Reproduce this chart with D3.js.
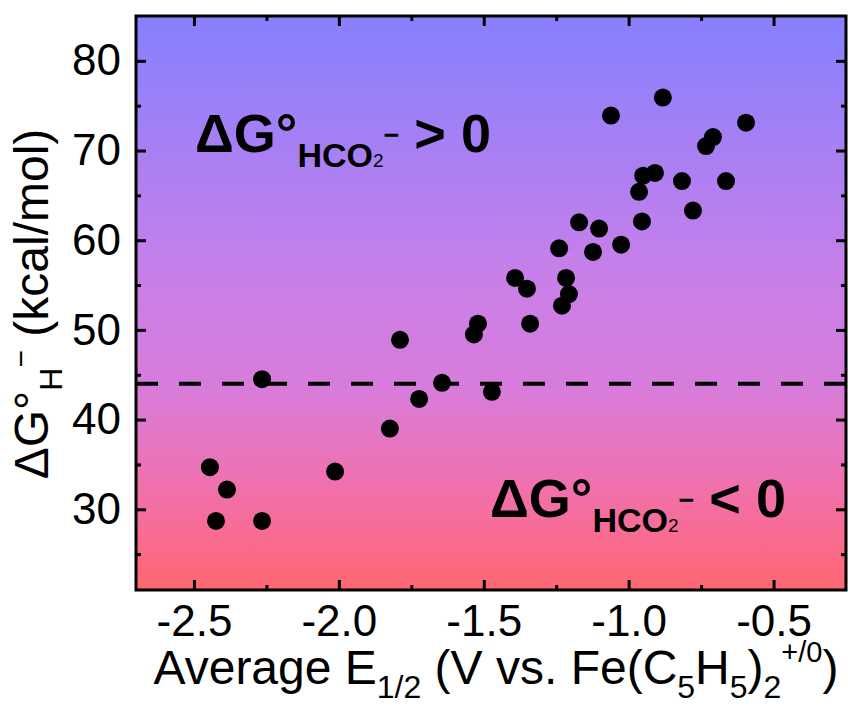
<!DOCTYPE html>
<html>
<head>
<meta charset="utf-8">
<script src="https://cdn.jsdelivr.net/npm/d3@7"></script>
<style>
body { margin:0; background:#fff; }
svg text { font-family: "Liberation Sans", Arial, sans-serif; }
</style>
</head>
<body>
<svg id="chart"></svg>
<script>
// values
var potentials = [-2.424,-2.445,-2.386,-2.265,-2.265,-2.013,-1.824,-1.789,-1.723,-1.644,
                  -1.534,-1.520,-1.472,-1.392,-1.351,-1.340,-1.240,-1.230,-1.216,-1.206,
                  -1.171,-1.123,-1.102,-1.061,-1.026,-0.964,-0.954,-0.950,-0.909,-0.882,
                  -0.816,-0.778,-0.733,-0.709,-0.664,-0.595];
var hydricity = [28.7,34.7,32.2,44.5,28.7,34.2,39.0,48.9,42.3,44.1,
                 49.5,50.7,43.1,55.8,54.6,50.7,59.1,52.7,55.8,54.0,
                 62.0,58.7,61.3,73.9,59.5,65.4,62.1,67.2,67.5,75.9,
                 66.6,63.3,70.5,71.5,66.6,73.1];
var xTicks = [-2.5,-2.0,-1.5,-1.0,-0.5];
var xMinor = [-2.25,-1.75,-1.25,-0.75];
var yTicks = [30,40,50,60,70,80];
var yMinor = [25,35,45,55,65,75];
var threshold = 44;

var screen = {width:848, height:709};
var margins = {top:16, bottom:119, left:136, right:2};
var graph = {
    width:screen.width-margins.left-margins.right,
    height:screen.height-margins.top-margins.bottom
};

var svg = d3.select("#chart")
    .attr("width", screen.width)
    .attr("height", screen.height);

var x = d3.scaleLinear()
        .domain([-2.7,-0.25])
        .range([0,graph.width]);

var y = d3.scaleLinear()
        .domain([21,85])
        .range([graph.height,0]);

//background gradient
var grad = svg.append("defs")
    .append("linearGradient")
    .attr("id","bg")
    .attr("x1",0).attr("y1",0).attr("x2",0).attr("y2",1);
[[0,"#8680ff"],[0.45,"#c87fe9"],[0.65,"#d87cdb"],[0.8,"#ee72b2"],[0.9,"#f86c94"],[1,"#ff6670"]]
    .forEach(function(s)
    {
        grad.append("stop").attr("offset",s[0]).attr("stop-color",s[1]);
    });

var g = svg.append("g")
    .attr("transform","translate("+margins.left+","+margins.top+")");

g.append("rect")
    .attr("width",graph.width)
    .attr("height",graph.height)
    .attr("fill","url(#bg)");

//ticks, all pointing inward
var drawTicks = function(axis, ticks, len, tr, fmt)
{
    var a = g.append("g")
        .attr("transform",tr)
        .call(axis.tickValues(ticks).tickSize(-len).tickPadding(15)
              .tickFormat(fmt || function(){ return ""; }));
    a.select(".domain").remove();
    a.selectAll("line").attr("stroke","black").attr("stroke-width",3);
    a.selectAll("text").attr("font-size",44).attr("fill","black");
    return a;
};

var xFmt = function(d){ return "-"+Math.abs(d).toFixed(1); };
var yFmt = function(d){ return d; };

var bottomY = "translate(0,"+graph.height+")";
var rightX = "translate("+graph.width+",0)";
drawTicks(d3.axisBottom(x), xTicks, 10, bottomY, xFmt);
drawTicks(d3.axisBottom(x), xMinor, 5, bottomY);
drawTicks(d3.axisTop(x), xTicks, 10, "translate(0,0)");
drawTicks(d3.axisTop(x), xMinor, 5, "translate(0,0)");
drawTicks(d3.axisLeft(y), yTicks, 10, "translate(0,0)", yFmt);
drawTicks(d3.axisLeft(y), yMinor, 5, "translate(0,0)");
drawTicks(d3.axisRight(y), yTicks, 10, rightX);
drawTicks(d3.axisRight(y), yMinor, 5, rightX);

//dashed threshold
g.append("line")
    .attr("x1",0).attr("x2",graph.width)
    .attr("y1",y(threshold)).attr("y2",y(threshold))
    .attr("stroke","black")
    .attr("stroke-width",4)
    .attr("stroke-dasharray","22,21");

//points
g.append("g")
    .selectAll("circle")
    .data(potentials)
    .enter()
    .append("circle")
    .attr("cx",function(d){ return x(d); })
    .attr("cy",function(d,i){ return y(hydricity[i]); })
    .attr("r",9)
    .attr("fill","black");

//frame
g.append("rect")
    .attr("width",graph.width)
    .attr("height",graph.height)
    .attr("fill","none")
    .attr("stroke","black")
    .attr("stroke-width",3);

//annotations
var annotate = function(px, py, sign)
{
    var t = svg.append("text")
        .attr("x",px).attr("y",py)
        .attr("font-weight","bold")
        .attr("font-size",54);
    t.append("tspan").text("\u0394G\u00b0");
    t.append("tspan").attr("font-size",34).attr("dy",15).text("HCO");
    t.append("tspan").attr("font-size",19).attr("font-weight","normal").text("2");
    t.append("tspan").attr("font-size",27).attr("dy",-23).text("\u2212");
    t.append("tspan").attr("dy",8).text(" "+sign+" 0");
};
annotate(195,152,">");
annotate(490,517,"<");

//axis titles
var xt = svg.append("text")
    .attr("x",496).attr("y",684)
    .attr("text-anchor","middle")
    .attr("font-size",48);
xt.append("tspan").text("Average E");
xt.append("tspan").attr("font-size",32).attr("dy",14).text("1/2");
xt.append("tspan").attr("dy",-14).text(" (V vs. Fe(C");
xt.append("tspan").attr("font-size",32).attr("dy",14).text("5");
xt.append("tspan").attr("dy",-14).text("H");
xt.append("tspan").attr("font-size",32).attr("dy",14).text("5");
xt.append("tspan").attr("dy",-14).text(")");
xt.append("tspan").attr("font-size",32).attr("dy",14).text("2");
xt.append("tspan").attr("font-size",29).attr("dy",-36).text("+/0");
xt.append("tspan").attr("dy",22).text(")");

var yt = svg.append("text")
    .attr("transform","translate(48,304) rotate(-90)")
    .attr("text-anchor","middle")
    .attr("font-size",48);
yt.append("tspan").text("\u0394G\u00b0");
yt.append("tspan").attr("font-size",32).attr("dy",14).text("H");
yt.append("tspan").attr("font-size",30).attr("dy",-31).text("\u2212");
yt.append("tspan").attr("dy",17).text(" (kcal/mol)");
</script>
</body>
</html>
